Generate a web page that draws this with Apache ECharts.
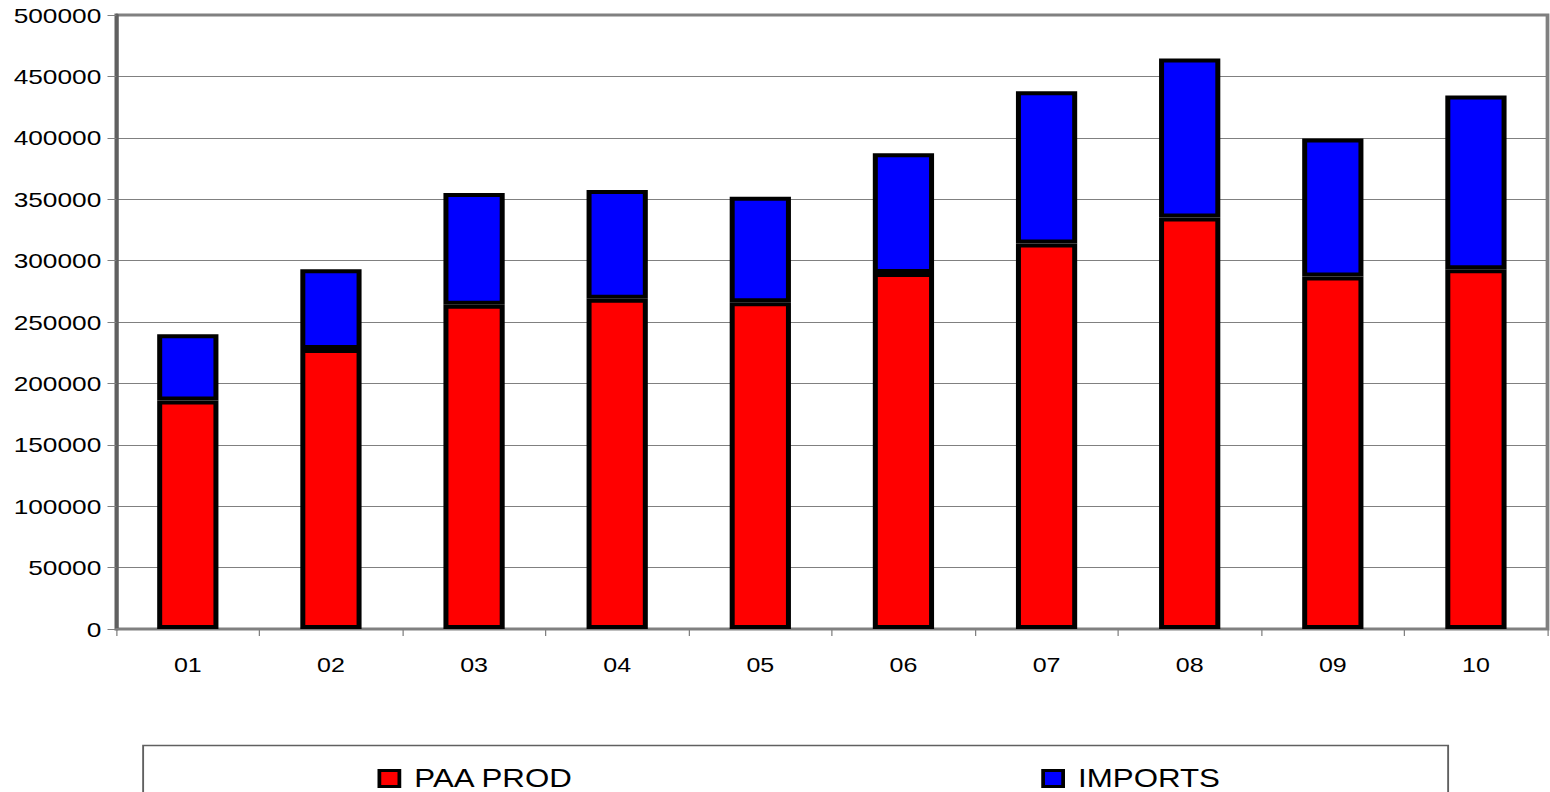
<!DOCTYPE html>
<html>
<head>
<meta charset="utf-8">
<title>PAA PROD / IMPORTS</title>
<script src="https://cdn.jsdelivr.net/npm/echarts@6/dist/echarts.min.js"></script>
<style>
  html, body { margin: 0; padding: 0; background: #fff; overflow: hidden; }
  /* the chart is laid out at 1240px and widened to 1550px, giving the broad lettering */
  #chart { width: 1240px; height: 792px; transform: scaleX(1.25); transform-origin: 0 0; }
</style>
</head>
<body>
<div id="chart"></div>
<script>
// Years on the category axis
const categories = ['01', '02', '03', '04', '05', '06', '07', '08', '09', '10'];
// Domestic production (bottom of each stack)
const paaProd = [186000, 228000, 264000, 269000, 266000, 290000, 314000, 335000, 287000, 293000];
// Imports (stacked on top)
const imports = [54000, 65000, 91000, 88500, 86000, 97500, 124000, 129500, 112500, 141500];
// Value axis range
const yMin = 0;
const yMax = 500000;
const yStep = 50000;

const FONT = '"Liberation Sans", Arial, sans-serif';
const chart = echarts.init(document.getElementById('chart'), null, { renderer: 'svg' });

const barStyle = (color) => ({ color: color, borderColor: '#000', borderWidth: 4 });

const legendBase = {
  top: 766, padding: 0,
  itemWidth: 16, itemHeight: 16, icon: 'rect',
  itemStyle: { borderColor: '#000', borderWidth: 3 },
  textStyle: { fontFamily: FONT, fontSize: 25, color: '#000', padding: [0, 0, 0, 7] }
};

chart.setOption({
  animation: false,
  backgroundColor: '#fff',
  textStyle: { fontFamily: FONT, color: '#000' },
  grid: {
    left: 93, right: 2, top: 15, bottom: 163,
    show: true, borderColor: '#808080', borderWidth: 3, backgroundColor: 'transparent'
  },
  xAxis: {
    type: 'category',
    data: categories,
    boundaryGap: true,
    axisLine: { lineStyle: { color: '#808080', width: 2 } },
    axisTick: { show: true, alignWithLabel: false, length: 7, lineStyle: { color: '#808080', width: 1 } },
    axisLabel: { fontFamily: FONT, fontSize: 20, color: '#000', margin: 26 },
    splitLine: { show: false }
  },
  yAxis: {
    type: 'value',
    min: yMin, max: yMax, interval: yStep,
    axisLine: { show: true, lineStyle: { color: '#606060', width: 3 } },
    axisTick: { show: true, length: 7, lineStyle: { color: '#808080', width: 1 } },
    axisLabel: {
      fontFamily: FONT, fontSize: 21, color: '#000', margin: 12,
      formatter: (v) => String(v)
    },
    splitLine: { show: true, lineStyle: { color: '#808080', width: 1 } }
  },
  legend: [
    Object.assign({ data: ['PAA PROD'], left: 302 }, legendBase),
    Object.assign({ data: ['IMPORTS'], left: 833 }, legendBase)
  ],
  graphic: [
    {
      type: 'rect', left: 112, top: 743, z: -1,
      shape: { width: 1044, height: 100 },
      style: { fill: 'none', stroke: '#606060', lineWidth: 1.5 }
    }
  ],
  series: [
    {
      name: 'PAA PROD', type: 'bar', stack: 'total', barWidth: 49,
      itemStyle: barStyle('#ff0000'),
      data: paaProd
    },
    {
      name: 'IMPORTS', type: 'bar', stack: 'total', barWidth: 49,
      itemStyle: barStyle('#0000ff'),
      data: imports
    }
  ]
});
</script>
</body>
</html>
